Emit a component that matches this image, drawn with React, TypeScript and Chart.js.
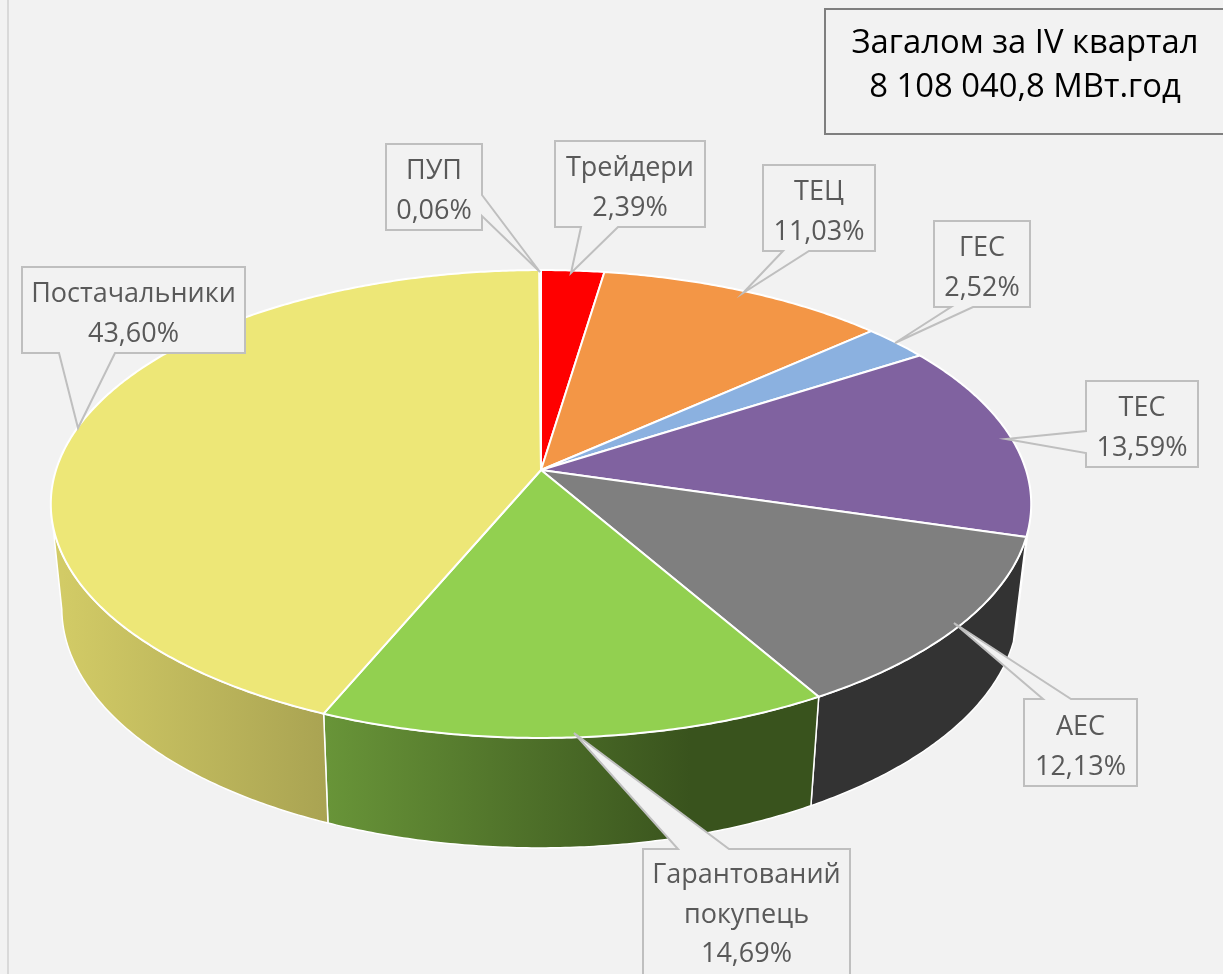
import React, { useEffect, useRef } from "react";
import { Chart, registerables } from "chart.js";

Chart.register(...registerables);

const categories = ["Трейдери", "ТЕЦ", "ГЕС", "ТЕС", "АЕС", "Гарантований покупець", "Постачальники", "ПУП"];
const values = [2.39, 11.03, 2.52, 13.59, 12.13, 14.69, 43.6, 0.06];
const topColors = ["#FF0000", "#F39646", "#8BB1E0", "#8062A0", "#7F7F7F", "#92D050", "#EDE777", "#8BB1E0"];
const wallColorsFrom = ["#660000", "#8a5528", "#4f6580", "#3a2d4c", "#333333", "#689438", "#D2CB66", "#4f6580"];
const wallColorsTo = ["#660000", "#8a5528", "#4f6580", "#3a2d4c", "#333333", "#39531D", "#A9A352", "#4f6580"];
const titleLines = ["Загалом за IV квартал", "8 108 040,8 МВт.год"];

// label lines for each slice, then the callout shape
const labelLines = [["Трейдери"], ["ТЕЦ"], ["ГЕС"], ["ТЕС"], ["АЕС"], ["Гарантований", "покупець"], ["Постачальники"], ["ПУП"]];
type Callout = { box: number[]; side: string; a: number; b: number; tip: number[]; base: number };
const callouts: Callout[] = [
  { box: [555, 141, 705, 227], side: "bottom", a: 581, b: 618, tip: [571, 273], base: 176 },
  { box: [763, 165, 875, 251], side: "bottom", a: 783, b: 809, tip: [743, 293], base: 200 },
  { box: [934, 221, 1030, 307], side: "bottom", a: 951, b: 973, tip: [895, 343], base: 256 },
  { box: [1086, 381, 1198, 467], side: "left", a: 431, b: 453, tip: [1006, 439], base: 416 },
  { box: [1024, 699, 1137, 786], side: "top", a: 1043, b: 1071, tip: [954, 623], base: 735 },
  { box: [643, 849, 850, 990], side: "top", a: 678, b: 729, tip: [574, 733], base: 883 },
  { box: [22, 267, 245, 353], side: "bottom", a: 59, b: 115, tip: [78, 428], base: 302 },
  { box: [386, 144, 482, 230], side: "right", a: 195, b: 216, tip: [540, 272], base: 179 },
];

const FONT = '"Open Sans", "Noto Sans", sans-serif';
const CX = 541, CY = 470, RX = 485, RY = 229, PERSP = -0.1453;
// outline of the rim ellipses: top face and bottom of the wall
const TOP_E = { x: 541, y: 504, rx: 490, ry: 234 };
const BOT_E = { x: 540, y: 608, rx: 478, ry: 240 };

function project(angle: number, bottom: boolean): [number, number] {
  // chart.js angle: 0 points right, grows clockwise
  const u = Math.cos(angle), v = Math.sin(angle);
  const d = 1 + PERSP * v;
  const x = CX + (RX * u) / d, y = CY + (RY * v) / d;
  if (!bottom) return [x, y];
  return [BOT_E.x + (BOT_E.rx * (x - TOP_E.x)) / TOP_E.rx, BOT_E.y + (BOT_E.ry * (y - TOP_E.y)) / TOP_E.ry];
}

const pie3d = {
  id: "pie3d",
  beforeDatasetDraw(chart: any) {
    const ctx: CanvasRenderingContext2D = chart.ctx;
    const arcs = chart.getDatasetMeta(0).data as any[];
    const STEP = Math.PI / 360;
    const sample = (s: number, e: number) => {
      const out: number[] = [];
      const n = Math.max(1, Math.ceil((e - s) / STEP));
      for (let i = 0; i <= n; i++) out.push(s + ((e - s) * i) / n);
      return out;
    };
    // walls: only the front half of the rim has a visible wall
    arcs.forEach((arc, i) => {
      const { startAngle: s, endAngle: e } = arc;
      const pts = sample(s, e).filter((a) => project(a, false)[1] >= TOP_E.y);
      if (pts.length < 2) return;
      const top = pts.map((a) => project(a, false));
      const bot = pts.map((a) => project(a, true)).reverse();
      const xs = bot.map((p) => p[0]);
      const g = ctx.createLinearGradient(Math.min(...xs), 0, Math.max(...xs) + 1, 0);
      g.addColorStop(0, wallColorsFrom[i]);
      g.addColorStop(i === 5 ? 0.75 : 1, wallColorsTo[i]);
      g.addColorStop(1, wallColorsTo[i]);
      ctx.beginPath();
      [...top, ...bot].forEach((p, k) => (k ? ctx.lineTo(p[0], p[1]) : ctx.moveTo(p[0], p[1])));
      ctx.closePath();
      ctx.fillStyle = g;
      ctx.fill();
      ctx.strokeStyle = "#FFFFFF";
      ctx.lineWidth = 1.5;
      ctx.lineJoin = "round";
      ctx.stroke();
    });
    // top faces
    arcs.forEach((arc, i) => {
      const { startAngle: s, endAngle: e } = arc;
      ctx.beginPath();
      ctx.moveTo(CX, CY);
      sample(s, e).forEach((a) => {
        const p = project(a, false);
        ctx.lineTo(p[0], p[1]);
      });
      ctx.closePath();
      ctx.fillStyle = topColors[i];
      ctx.fill();
      ctx.strokeStyle = "#FFFFFF";
      ctx.lineWidth = 2;
      ctx.lineJoin = "round";
      ctx.stroke();
    });
    return false;
  },
  afterDraw(chart: any) {
    const ctx: CanvasRenderingContext2D = chart.ctx;
    ctx.save();
    // callouts
    callouts.forEach((c, i) => {
      const [l, t, r, b] = c.box;
      ctx.beginPath();
      ctx.moveTo(l, t);
      if (c.side === "top") {
        ctx.lineTo(c.a, t); ctx.lineTo(c.tip[0], c.tip[1]); ctx.lineTo(c.b, t);
      }
      ctx.lineTo(r, t);
      if (c.side === "right") {
        ctx.lineTo(r, c.a); ctx.lineTo(c.tip[0], c.tip[1]); ctx.lineTo(r, c.b);
      }
      ctx.lineTo(r, b);
      if (c.side === "bottom") {
        ctx.lineTo(c.b, b); ctx.lineTo(c.tip[0], c.tip[1]); ctx.lineTo(c.a, b);
      }
      ctx.lineTo(l, b);
      if (c.side === "left") {
        ctx.lineTo(l, c.b); ctx.lineTo(c.tip[0], c.tip[1]); ctx.lineTo(l, c.a);
      }
      ctx.closePath();
      ctx.fillStyle = "#F2F2F2";
      ctx.fill();
      ctx.strokeStyle = "#BFBFBF";
      ctx.lineWidth = 2;
      ctx.lineJoin = "miter";
      ctx.stroke();
      const lines = [...labelLines[i], values[i].toFixed(2).replace(".", ",") + "%"];
      ctx.fillStyle = "#595959";
      ctx.font = `27px ${FONT}`;
      ctx.textAlign = "center";
      ctx.textBaseline = "alphabetic";
      lines.forEach((txt, k) => ctx.fillText(txt, (l + r) / 2, c.base + k * 39.5));
    });
    // title box
    ctx.beginPath();
    ctx.rect(825, 9, 420, 125);
    ctx.fillStyle = "#F2F2F2";
    ctx.fill();
    ctx.strokeStyle = "#7F7F7F";
    ctx.lineWidth = 2;
    ctx.stroke();
    ctx.fillStyle = "#000000";
    ctx.font = `32.8px ${FONT}`;
    ctx.textAlign = "center";
    titleLines.forEach((txt, k) => ctx.fillText(txt, 1025, 53 + k * 44));
    ctx.restore();
  },
  beforeDraw(chart: any) {
    const ctx: CanvasRenderingContext2D = chart.ctx;
    ctx.save();
    ctx.fillStyle = "#F2F2F2";
    ctx.fillRect(0, 0, chart.width, chart.height);
    ctx.fillStyle = "#D9D9D9";
    ctx.fillRect(7, 0, 2, chart.height);
    ctx.restore();
  },
};

export default function App() {
  const ref = useRef<HTMLCanvasElement>(null);
  useEffect(() => {
    document.body.style.margin = "0";
    document.body.style.overflow = "hidden";
    const chart = new Chart(ref.current!, {
      type: "pie",
      data: { labels: categories, datasets: [{ data: values, backgroundColor: topColors, borderColor: "#FFFFFF" }] },
      options: {
        responsive: false,
        animation: false,
        plugins: { legend: { display: false }, tooltip: { enabled: false }, title: { display: false } },
      },
      plugins: [pie3d],
    } as any);
    return () => chart.destroy();
  }, []);
  return <canvas ref={ref} width={1223} height={974} style={{ display: "block", width: 1223, height: 974 }} />;
}
